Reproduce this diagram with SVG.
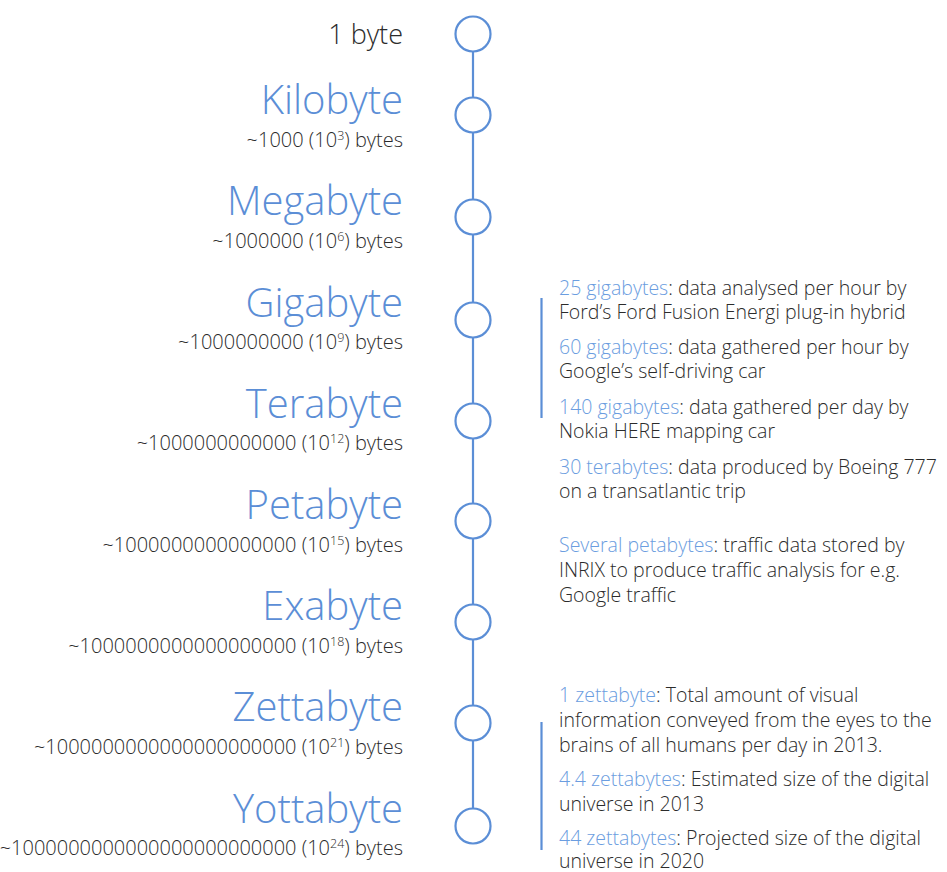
<svg xmlns="http://www.w3.org/2000/svg" width="947" height="872" viewBox="0 0 947 872">
<style>
text{font-family:"Open Sans","Noto Sans","Liberation Sans",sans-serif;font-weight:300}
.t{font-size:40px;fill:#5b8ed6;text-anchor:end}
.s{font-size:20px;fill:#2b2b2b;text-anchor:end}
.sup{font-size:12.5px}
.r{font-size:19.5px;fill:#2b2b2b}
.h{fill:#6b9de0}
.node circle{fill:#fff;stroke:#5b8ed6;stroke-width:2.2}
.bar{stroke:#5b8ed6;stroke-width:2.2}
</style>
<rect width="947" height="872" fill="#fff"/>
<g id="connectors">
<line class="bar" x1="473" y1="34" x2="473" y2="826"/>
<line class="bar" x1="541.5" y1="298" x2="541.5" y2="418"/>
<line class="bar" x1="541.5" y1="722" x2="541.5" y2="850"/>
</g>
<g id="n-byte" class="node"><circle cx="473" cy="34" r="17.5"/><text x="403" y="44" style="font-size:27px;fill:#2b2b2b;text-anchor:end">1 byte</text></g>
<g id="n-kilo" class="node"><circle cx="473" cy="115" r="17.5"/><text class="t" x="403" y="114">Kilobyte</text><text class="s" x="403" y="147">~1000 (10<tspan class="sup" dy="-7">3</tspan><tspan dy="7">) bytes</tspan></text></g>
<g id="n-mega" class="node"><circle cx="473" cy="217" r="17.5"/><text class="t" x="403" y="215">Megabyte</text><text class="s" x="403" y="248">~1000000 (10<tspan class="sup" dy="-7">6</tspan><tspan dy="7">) bytes</tspan></text></g>
<g id="n-giga" class="node"><circle cx="473" cy="320" r="17.5"/><text class="t" x="403" y="317">Gigabyte</text><text class="s" x="403" y="349">~1000000000 (10<tspan class="sup" dy="-7">9</tspan><tspan dy="7">) bytes</tspan></text></g>
<g id="n-tera" class="node"><circle cx="473" cy="421" r="17.5"/><text class="t" x="403" y="418">Terabyte</text><text class="s" x="403" y="450">~1000000000000 (10<tspan class="sup" dy="-7">12</tspan><tspan dy="7">) bytes</tspan></text></g>
<g id="n-peta" class="node"><circle cx="473" cy="521" r="17.5"/><text class="t" x="403" y="519">Petabyte</text><text class="s" x="403" y="552">~1000000000000000 (10<tspan class="sup" dy="-7">15</tspan><tspan dy="7">) bytes</tspan></text></g>
<g id="n-exa" class="node"><circle cx="473" cy="622" r="17.5"/><text class="t" x="403" y="620">Exabyte</text><text class="s" x="403" y="653">~1000000000000000000 (10<tspan class="sup" dy="-7">18</tspan><tspan dy="7">) bytes</tspan></text></g>
<g id="n-zetta" class="node"><circle cx="473" cy="723" r="17.5"/><text class="t" x="403" y="721">Zettabyte</text><text class="s" x="403" y="754">~1000000000000000000000 (10<tspan class="sup" dy="-7">21</tspan><tspan dy="7">) bytes</tspan></text></g>
<g id="n-yotta" class="node"><circle cx="473" cy="826" r="17.5"/><text class="t" x="403" y="823">Yottabyte</text><text class="s" x="403" y="855">~1000000000000000000000000 (10<tspan class="sup" dy="-7">24</tspan><tspan dy="7">) bytes</tspan></text></g>
<g id="facts">
<text class="r" x="559" y="295"><tspan class="h">25 gigabytes</tspan>: data analysed per hour by</text>
<text class="r" x="559" y="319">Ford’s Ford Fusion Energi plug-in hybrid</text>
<text class="r" x="559" y="354"><tspan class="h">60 gigabytes</tspan>: data gathered per hour by</text>
<text class="r" x="559" y="378">Google’s self-driving car</text>
<text class="r" x="559" y="414"><tspan class="h">140 gigabytes</tspan>: data gathered per day by</text>
<text class="r" x="559" y="438">Nokia HERE mapping car</text>
<text class="r" x="559" y="474"><tspan class="h">30 terabytes</tspan>: data produced by Boeing 777</text>
<text class="r" x="559" y="498">on a transatlantic trip</text>
<text class="r" x="559" y="552"><tspan class="h">Several petabytes</tspan>: traffic data stored by</text>
<text class="r" x="559" y="577">INRIX to produce traffic analysis for e.g.</text>
<text class="r" x="559" y="602">Google traffic</text>
<text class="r" x="559" y="702"><tspan class="h">1 zettabyte</tspan>: Total amount of visual</text>
<text class="r" x="559" y="727">information conveyed from the eyes to the</text>
<text class="r" x="559" y="752">brains of all humans per day in 2013.</text>
<text class="r" x="559" y="786"><tspan class="h">4.4 zettabytes</tspan>: Estimated size of the digital</text>
<text class="r" x="559" y="811">universe in 2013</text>
<text class="r" x="559" y="845"><tspan class="h">44 zettabytes</tspan>: Projected size of the digital</text>
<text class="r" x="559" y="868">universe in 2020</text>
</g>
</svg>
